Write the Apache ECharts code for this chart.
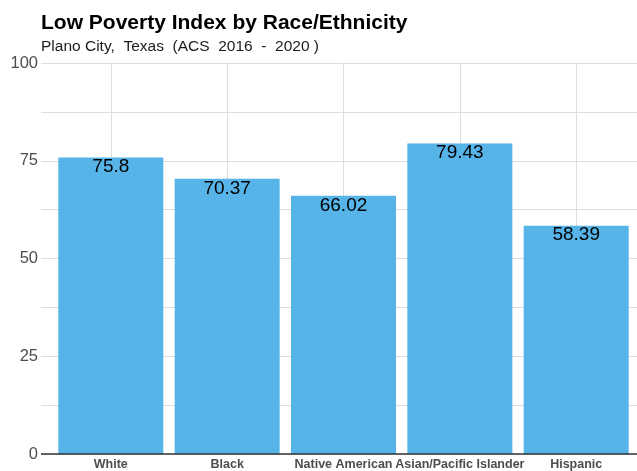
<!DOCTYPE html>
<html>
<head>
<meta charset="utf-8">
<script src="https://cdn.jsdelivr.net/npm/echarts@6/dist/echarts.min.js"></script>
<style>
  html, body { margin: 0; padding: 0; background: #fff; }
  #chart { width: 637px; height: 471px; }
</style>
</head>
<body>
<div id="chart"></div>
<script>
// Low Poverty Index values by race/ethnicity
const categories = ['White', 'Black', 'Native American', 'Asian/Pacific Islander', 'Hispanic'];
const values = [75.8, 70.37, 66.02, 79.43, 58.39];
const yTicks = [0, 25, 50, 75, 100];

const chart = echarts.init(document.getElementById('chart'), null, { renderer: 'canvas' });

const positions = categories.map((_, i) => i);

chart.setOption({
  animation: false,
  backgroundColor: '#ffffff',
  title: {
    text: 'Low Poverty Index by Race/Ethnicity',
    subtext: 'Plano City,  Texas  (ACS  2016  -  2020 )',
    left: 36,
    top: 8,
    itemGap: 5,
    textStyle: { fontFamily: 'Liberation Sans, Arial, sans-serif', fontSize: 21, fontWeight: 'bold', color: '#000' },
    subtextStyle: { fontFamily: 'Liberation Sans, Arial, sans-serif', fontSize: 15.5, color: '#1a1a1a' }
  },
  grid: { left: 41, width: 605, top: 63, bottom: 17, containLabel: false, outerBoundsMode: 'none' },
  xAxis: {
    type: 'value',
    min: -0.6,
    max: 4.6,
    axisLine: { show: false },
    axisTick: { show: false, customValues: positions },
    axisLabel: {
      customValues: positions,
      formatter: v => categories[Math.round(v)] || '',
      fontFamily: 'Liberation Sans, Arial, sans-serif',
      fontWeight: 'bold',
      fontSize: 12.5,
      color: '#4d4d4d',
      margin: 4
    },
    splitLine: { show: true, lineStyle: { color: '#dedede', width: 1 } }
  },
  yAxis: {
    type: 'value',
    min: 0,
    max: 100,
    interval: 12.5,
    axisLine: { show: false },
    axisTick: { show: false },
    axisLabel: {
      formatter: v => (yTicks.indexOf(v) >= 0 ? String(v) : ''),
      fontFamily: 'Liberation Sans, Arial, sans-serif',
      fontSize: 16.5,
      color: '#4d4d4d',
      margin: 3
    },
    splitLine: { show: true, lineStyle: { color: '#dedede', width: 1 } }
  },
  series: [
    {
      type: 'bar',
      data: values.map((v, i) => [i, v]),
      barWidth: 105,
      itemStyle: { color: '#56B4E9' },
      label: {
        show: true,
        position: 'insideTop',
        distance: 0,
        formatter: p => String(p.value[1]),
        fontFamily: 'Liberation Sans, Arial, sans-serif',
        fontSize: 19,
        color: '#000'
      },
      markLine: {
        silent: true,
        symbol: 'none',
        label: { show: false },
        lineStyle: { color: '#333333', width: 1.5, type: 'solid' },
        data: [{ yAxis: 0 }]
      }
    }
  ]
});
</script>
</body>
</html>
